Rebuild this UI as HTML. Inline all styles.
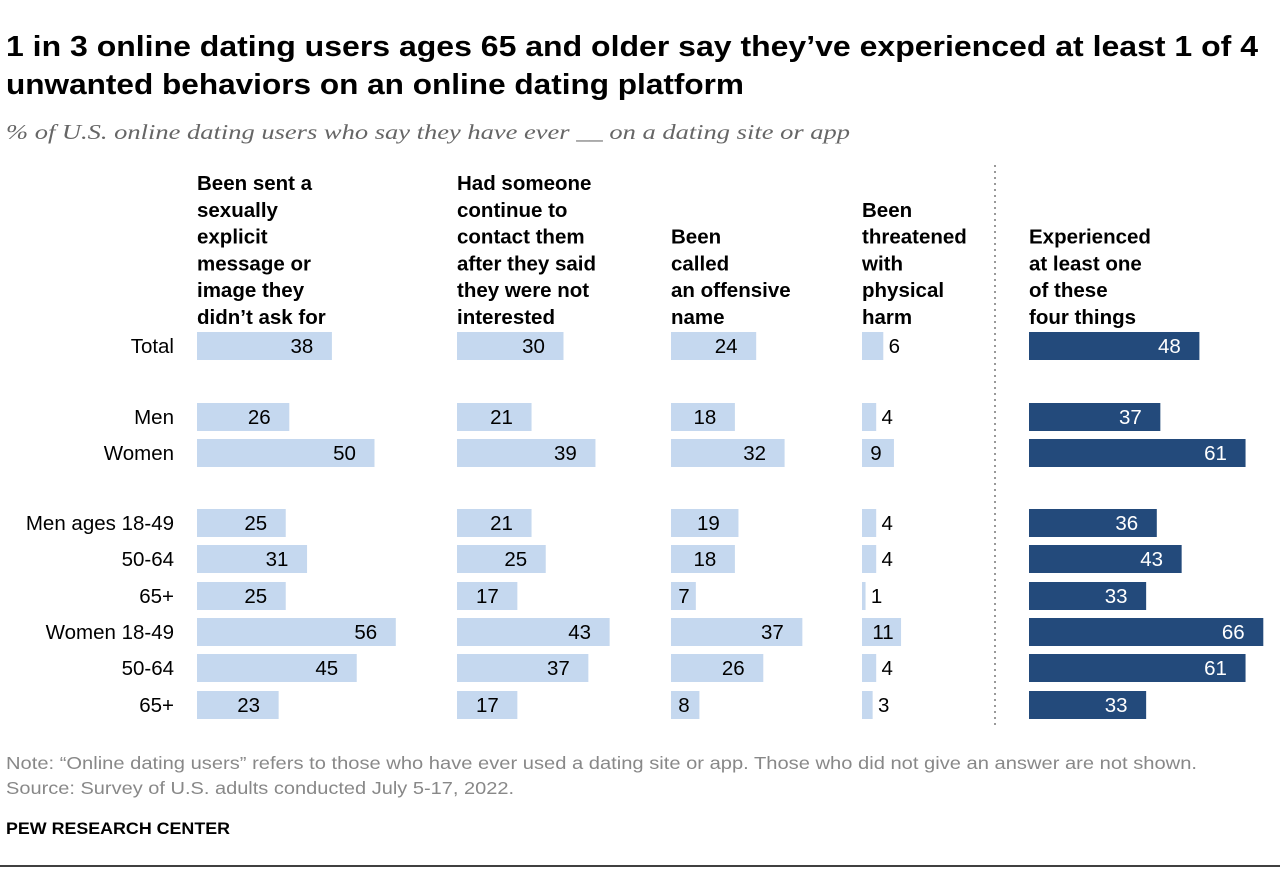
<!DOCTYPE html>
<html><head><meta charset="utf-8">
<style>
body{margin:0;background:#fff;font-family:"Liberation Sans",sans-serif;}
svg text{font-family:"Liberation Sans",sans-serif;}
</style></head>
<body>
<svg width="1280" height="872" xmlns="http://www.w3.org/2000/svg" id="chart">
<text x="6" y="56" font-size="29" font-weight="bold" fill="#000" textLength="1252" lengthAdjust="spacingAndGlyphs">1 in 3 online dating users ages 65 and older say they’ve experienced at least 1 of 4</text>
<text x="6" y="94" font-size="29" font-weight="bold" fill="#000" textLength="738" lengthAdjust="spacingAndGlyphs">unwanted behaviors on an online dating platform</text>
<text x="6" y="139" font-size="21" font-style="italic" fill="#666" style="font-family:'Liberation Serif',serif" textLength="844" lengthAdjust="spacingAndGlyphs">% of U.S. online dating users who say they have ever __ on a dating site or app</text>
<line x1="995" y1="165" x2="995" y2="728" stroke="#999" stroke-width="2" stroke-dasharray="2,4"/>
<g id="heads"></g>
<g id="rows"></g>
<g id="bars"></g>
<text x="6" y="769" font-size="17.5" fill="#888" textLength="1191" lengthAdjust="spacingAndGlyphs">Note: “Online dating users” refers to those who have ever used a dating site or app. Those who did not give an answer are not shown.</text>
<text x="6" y="794" font-size="17.5" fill="#888" textLength="508" lengthAdjust="spacingAndGlyphs">Source: Survey of U.S. adults conducted July 5-17, 2022.</text>
<text x="6" y="834" font-size="17" font-weight="bold" fill="#000" textLength="224" lengthAdjust="spacingAndGlyphs">PEW RESEARCH CENTER</text>
<line x1="0" y1="866" x2="1280" y2="866" stroke="#000" stroke-width="1.5"/>
</svg>
<script>
const categories=["Total","Men","Women","Men ages 18-49","50-64","65+","Women 18-49","50-64","65+"];
const sexualMsg=[38,26,50,25,31,25,56,45,23];
const continuedContact=[30,21,39,21,25,17,43,37,17];
const offensiveName=[24,18,32,19,18,7,37,26,8];
const physicalThreat=[6,4,9,4,4,1,11,4,3];
const atLeastOne=[48,37,61,36,43,33,66,61,33];
const headers=[
 ["Been sent a","sexually","explicit","message or","image they","didn’t ask for"],
 ["Had someone","continue to","contact them","after they said","they were not","interested"],
 ["Been","called","an offensive","name"],
 ["Been","threatened","with","physical","harm"],
 ["Experienced","at least one","of these","four things"]];
const NS="http://www.w3.org/2000/svg";
const svg=document.getElementById('chart');
const starts=[197,457,671,862,1029];
const series=[sexualMsg,continuedContact,offensiveName,physicalThreat,atLeastOne];
const rowY=[346,417,453,523,559,596,632,668,705];
const scale=3.55;
const x=(c,v)=>starts[c]+v*scale;
function mk(tag,attrs,parent){const e=document.createElementNS(NS,tag);for(const k in attrs)e.setAttribute(k,attrs[k]);(parent||svg).appendChild(e);return e;}
headers.forEach((h,c)=>{
 const base=324-(h.length-1)*26.8;
 h.forEach((line,i)=>{
  const t=mk('text',{x:starts[c],y:base+i*26.8,'font-size':20.5,'font-weight':'bold',fill:'#000'},document.getElementById('heads'));
  
  
  t.textContent=line;
 });
});
categories.forEach((cat,r)=>{
 const t=mk('text',{x:174,y:rowY[r]+7,'font-size':20.5,'text-anchor':'end',fill:'#000'},document.getElementById('rows'));
 
 
 t.textContent=cat;
});
series.forEach((s,c)=>{
 const dark=c===4;
 s.forEach((v,r)=>{
  const end=x(c,v);
  const b=mk('rect',{x:starts[c],y:rowY[r]-14,width:end-starts[c],height:28,fill:dark?'#234a7b':'#c5d8ef'},document.getElementById('bars'));
  
  
  let tx,col='#000';
  if(c===3){tx=v>=9?end-18:end+11;}
  else{tx=Math.max(end-30,starts[c]+13);}
  if(dark)col='#fff';
  const t=mk('text',{x:tx,y:rowY[r]+7,'font-size':20.5,'text-anchor':'middle',fill:col},document.getElementById('bars'));
  
  
  t.textContent=v;
 });
});
</script>
</body></html>
